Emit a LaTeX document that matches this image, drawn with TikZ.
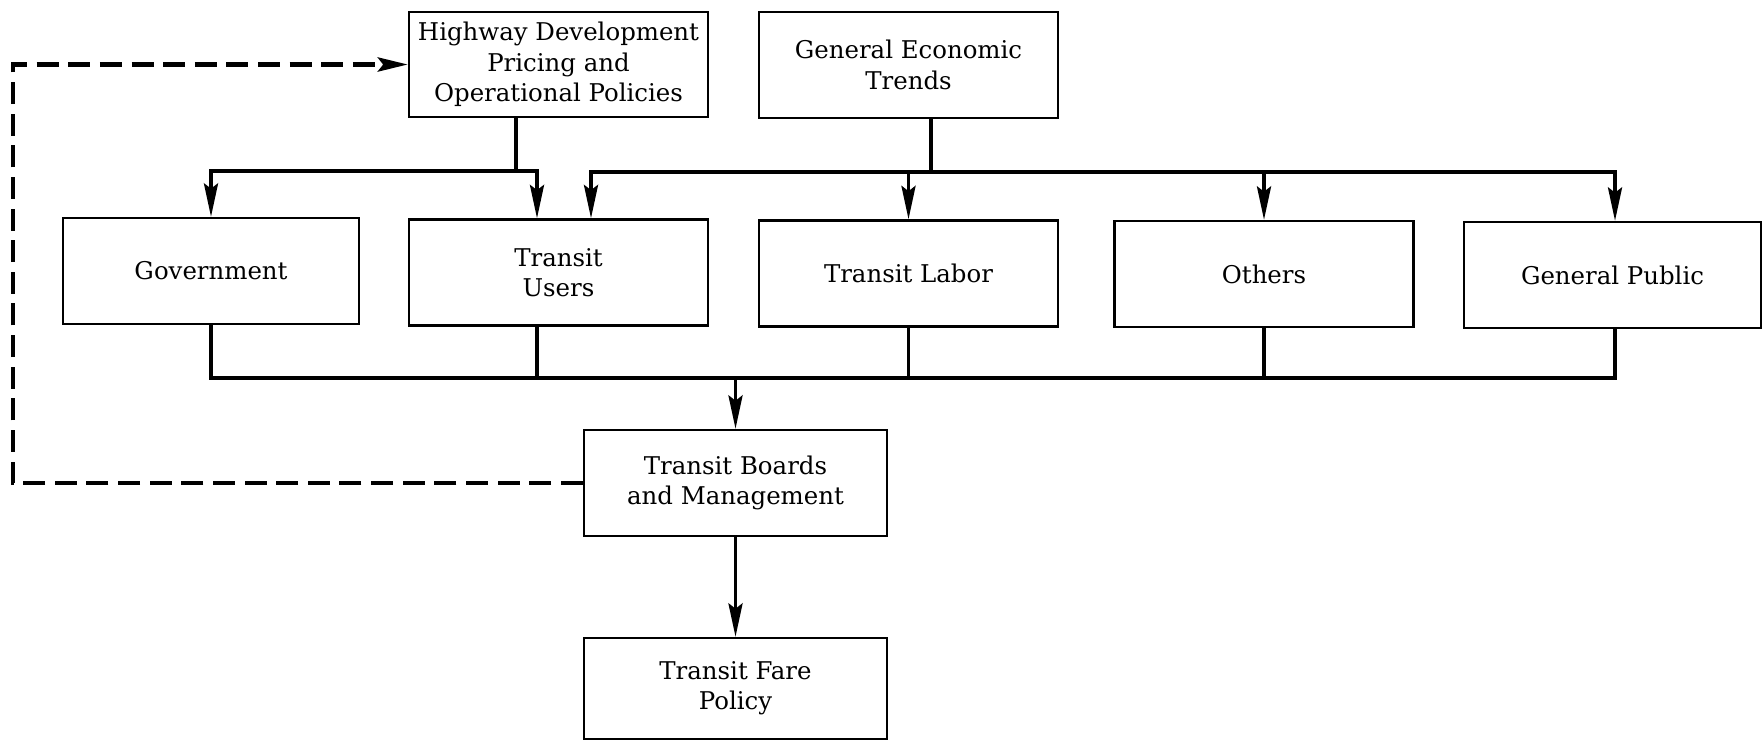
\documentclass[tikz,border=0pt]{standalone}
\usepackage{fontspec}
\setmainfont{DejaVu Serif}
\usetikzlibrary{arrows.meta}
\tikzset{
  box/.style={draw, line width=1.4pt, minimum width=5.98cm, minimum height=2.12cm,
    inner sep=0pt, align=center, font=\fontsize{13.9pt}{17.3pt}\selectfont},
  conn/.style={line width=2pt},
  arr/.style={conn, -{Stealth[length=19pt,width=8pt,inset=3pt]}},
  dashline/.style={line width=2.6pt, dash pattern=on 12.5pt off 5.5pt,
    -{Stealth[length=17pt,width=8pt,inset=3pt]}},
}
\begin{document}
\begin{tikzpicture}[x=0.02cm,y=-0.02cm]
\useasboundingbox (0,0) rectangle (1763,741);
% boxes
\node[box, minimum height=2.1cm] (hw) at (558.5,64.5) {Highway Development\\Pricing and\\Operational Policies};
\node[box] (ge) at (908.5,65) {General Economic\\Trends};
\node[box, minimum width=5.92cm] (gov) at (211,271) {Government};
\node[box] (tu) at (558.5,272.5) {Transit\\Users};
\node[box] (tl) at (908.5,273.5) {Transit Labor};
\node[box] (ot) at (1264,274) {Others};
\node[box, minimum width=5.94cm] (gp) at (1612.5,275) {General Public};
\node[box, minimum width=6.06cm] (tb) at (735.5,483) {Transit Boards\\and Management};
\node[box, minimum width=6.06cm, minimum height=2.02cm] (fp) at (735.5,688.5) {Transit Fare\\Policy};
% junctions
\coordinate (hwJ) at (516,171);
\coordinate (hwR) at (537,171);
\coordinate (geJ) at (931,172);
\coordinate (geL) at (591,172);
\coordinate (geR) at (1615,172);
\coordinate (busJ) at (735.5,378);
\coordinate (dA) at (13,483);
\coordinate (dB) at (13,64.5);
% top connectors
\draw[conn] (hwJ |- hw.south) -- (hwJ);
\draw[arr] (hwJ) -| (gov.north);
\draw[arr] (hwJ) -- (hwR) -- (hwR |- tu.north);
\draw[conn] (geJ |- ge.south) -- (geJ);
\draw[arr] (geJ) -- (geL) -- (geL |- tu.north);
\draw[arr] (geJ) -- (geR) -- (geR |- gp.north);
\draw[arr] (tl.north |- geJ) -- (tl.north);
\draw[arr] (ot.north |- geJ) -- (ot.north);
% bottom bus
\draw[conn] (gov.south) |- (geR |- busJ) -- (geR |- gp.south);
\draw[conn] (hwR |- tu.south) -- (hwR |- busJ);
\draw[conn] (tl.south) -- (tl.south |- busJ);
\draw[conn] (ot.south) -- (ot.south |- busJ);
\draw[arr] (busJ) -- (tb.north);
\draw[arr] (tb.south) -- (fp.north);
% feedback
\draw[dashline] (tb.west) -- (dA) -- (dB) -- (hw.west);
\end{tikzpicture}
\end{document}
